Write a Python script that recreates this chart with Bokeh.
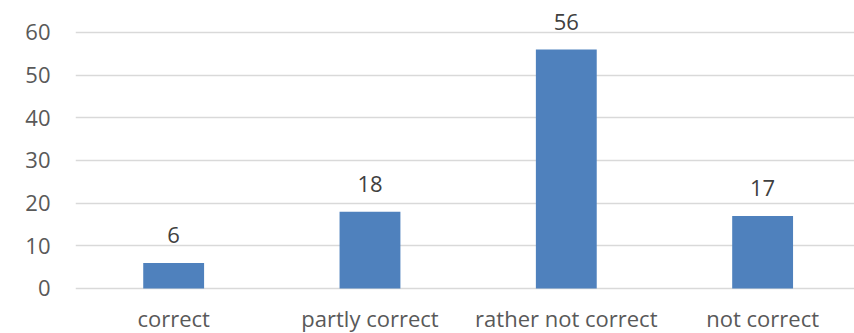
from bokeh.plotting import figure
from bokeh.models import ColumnDataSource, Range1d, FixedTicker
from bokeh.core.properties import value
from bokeh.embed import file_html
from bokeh.resources import INLINE

categories = ["correct", "partly correct", "rather not correct", "not correct"]
counts = [6, 18, 56, 17]
y_ticks = [0, 10, 20, 30, 40, 50, 60]

xs = list(range(len(categories)))
src = ColumnDataSource(dict(x=xs, top=counts, label=[str(c) for c in counts],
                            cat=categories, zero=[0] * len(categories)))

FONT = "Open Sans"

p = figure(width=854, height=333, output_backend="svg", toolbar_location=None,
           x_range=Range1d(-0.5, 3.468), y_range=Range1d(-10.55, 67.5),
           min_border_left=75, min_border_right=0, min_border_top=0, min_border_bottom=0)
p.outline_line_color = None
p.background_fill_color = "white"
p.border_fill_color = "white"

p.vbar(x="x", top="top", bottom=0, width=0.31, source=src,
       fill_color="#4F81BD", line_color=None)
p.text(x="x", y="top", text="label", source=src, text_align="center",
       text_baseline="alphabetic", y_offset=-28, text_font=value(FONT),
       text_font_size="22px", text_color="#404040")
p.text(x="x", y="zero", text="cat", source=src, text_align="center",
       text_baseline="alphabetic", y_offset=30, text_font=value(FONT),
       text_font_size="22px", text_color="#595959")

p.xaxis.visible = False
p.yaxis.ticker = FixedTicker(ticks=y_ticks)
ax = p.yaxis
ax.axis_line_color = None
ax.major_tick_line_color = None
ax.minor_tick_line_color = None
ax.major_tick_out = 0
ax.major_tick_in = 0
ax.major_label_text_font = FONT
ax.major_label_text_font_size = "22px"
ax.major_label_text_color = "#595959"
ax.major_label_standoff = 25

p.xgrid.grid_line_color = None
p.ygrid.ticker = FixedTicker(ticks=y_ticks)
p.ygrid.grid_line_color = "#d9d9d9"
p.ygrid.grid_line_width = 1.5

open("out.html", "w").write(file_html(p, INLINE))
